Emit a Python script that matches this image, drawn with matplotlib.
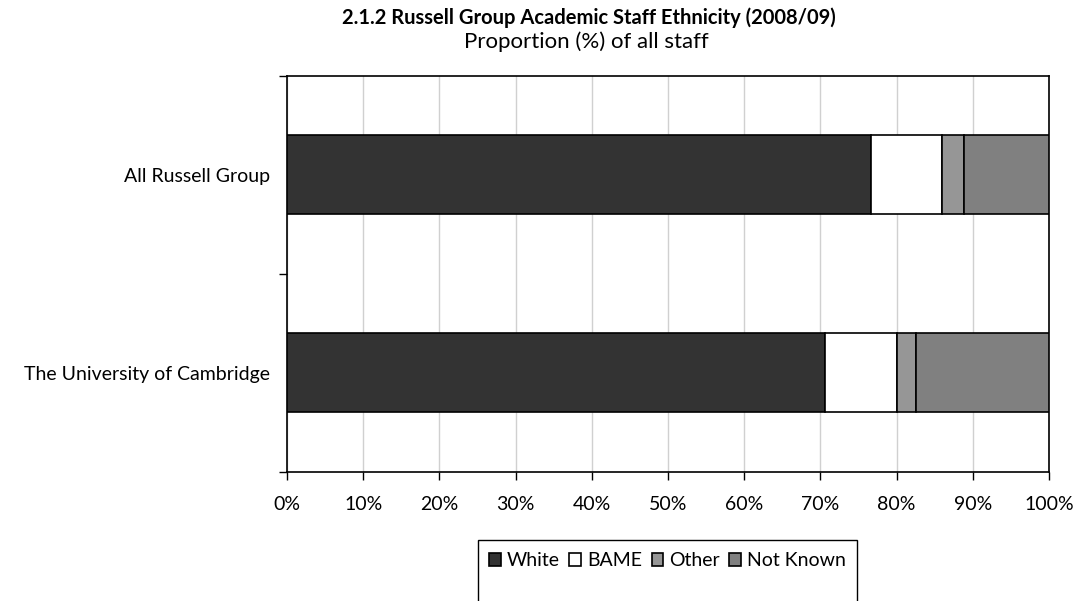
import numpy as np
import matplotlib.pyplot as plt
from matplotlib.patches import Rectangle

plt.rcParams['font.family'] = ['Lato', 'DejaVu Sans']

categories = ["All Russell Group", "The University of Cambridge"]
series = ["White", "BAME", "Other", "Not Known"]
white = [76.6, 70.6]
bame = [9.4, 9.5]
other = [2.85, 2.45]
not_known = [11.15, 17.45]
colors = ["#333333", "#ffffff", "#969696", "#808080"]

fig = plt.figure(figsize=(10.79, 6.01), dpi=100)
ax = fig.add_axes([287 / 1079, 1 - 471.5 / 601, 762 / 1079, 395.5 / 601])

y = np.arange(len(categories))
left = np.zeros(len(categories))
for name, vals, c in zip(series, [white, bame, other, not_known], colors):
    ax.barh(y, vals, left=left, height=0.4, color=c, edgecolor="black",
            linewidth=1.2, label=name, zorder=3)
    left += np.array(vals)

ax.set_xlim(0, 100)
ax.set_ylim(1.5, -0.5)
ax.set_xticks(np.arange(0, 101, 10))
ax.set_xticklabels([f"{v}%" for v in range(0, 101, 10)])
ax.set_yticks(y)
ax.set_yticklabels(categories)
ax.set_yticks([-0.5, 0.5, 1.5], minor=True)
ax.tick_params(axis="y", which="major", length=0, pad=12, labelsize=14)
ax.tick_params(axis="y", which="minor", length=6, width=1, direction="out")
ax.tick_params(axis="x", length=6, width=1, direction="out", pad=12, labelsize=14)
ax.grid(axis="x", color="#d0d0d0", linewidth=1, zorder=0)
for s in ax.spines.values():
    s.set_color("black")
    s.set_linewidth(1.2)

fig.text(589 / 1079, 1 - 18 / 601, "2.1.2 Russell Group Academic Staff Ethnicity (2008/09)",
         ha="center", va="center", fontsize=14.5, fontweight="bold")
fig.text(586 / 1079, 1 - 42 / 601, "Proportion (%) of all staff",
         ha="center", va="center", fontsize=16)

fig.patches.append(Rectangle((478 / 1079, -0.05), (857 - 478) / 1079, 1 - 540 / 601 + 0.05,
                             transform=fig.transFigure, fill=False, edgecolor="black",
                             linewidth=1))
ax.legend(loc="center", bbox_to_anchor=(667.5 / 1079, 1 - 561 / 601),
          bbox_transform=fig.transFigure, ncol=4, frameon=False, fontsize=14,
          handlelength=0.6, handleheight=0.6, handletextpad=0.3, columnspacing=0.5)

fig.savefig("out.png", dpi=100)
